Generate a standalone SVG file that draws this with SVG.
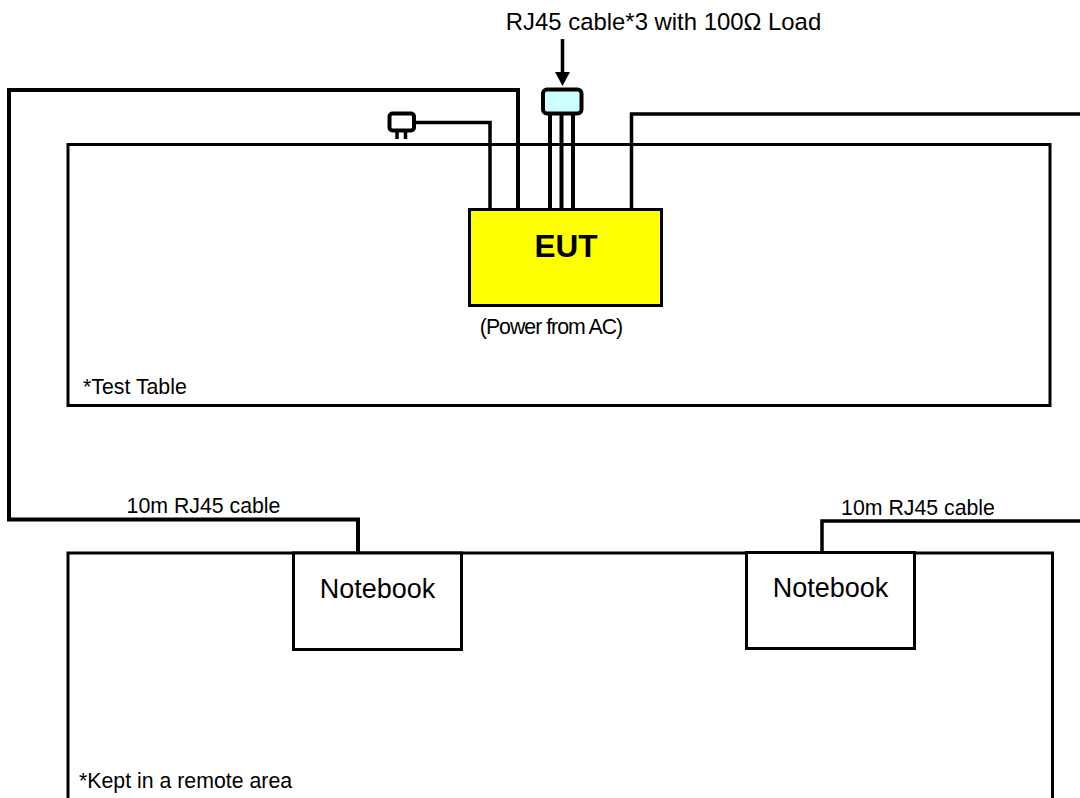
<svg xmlns="http://www.w3.org/2000/svg" width="1080" height="798" viewBox="0 0 1080 798">
<style>
text{font-family:"Liberation Sans",Arial,sans-serif;fill:#000}
.box{fill:#fff;stroke:#000;stroke-width:3}
.open{fill:none;stroke:#000;stroke-width:3.500;stroke-linejoin:miter}
.thick{fill:none;stroke:#000;stroke-width:4;stroke-linejoin:miter}
.thin{fill:none;stroke:#000;stroke-width:3.500;stroke-linejoin:miter}
.small{font-size:21.300px}
.mid{text-anchor:middle}
.nb{font-size:27px;text-anchor:middle}
</style>
<rect width="1080" height="798" fill="#fff"/>
<g id="test-table"><path class="box" d="M68 144.500H1050V405.500H68Z"/><text x="83" y="394" class="small">*Test Table</text></g>
<g id="remote-area"><path class="box" d="M68 798V553H1052.500V798"/><text x="79" y="788" class="small">*Kept in a remote area</text></g>
<g id="connectors">
<path class="open" d="M490 209V122.500H414"/>
<path class="thick" d="M518 209V90H9V519.500H358V553"/>
<path class="thick" d="M550 209V113M561.500 209V113M573 209V113"/>
<path class="thin" d="M631.500 209V114H1080"/>
<path class="thin" d="M822 553V521H1080"/>
<path d="M562.500 39V74" stroke="#000" stroke-width="3.500" fill="none"/>
<path d="M555 72H570L562.500 86Z" fill="#000"/>
</g>
<g id="eut"><rect x="469.500" y="209.500" width="192" height="96" fill="#ff0" stroke="#000" stroke-width="3"/><text x="566" y="257" font-size="31.500" font-weight="bold" text-anchor="middle">EUT</text><text x="551" y="334" class="small" letter-spacing="-1" text-anchor="middle">(Power from AC)</text></g>
<g id="plug"><rect x="389.500" y="113.500" width="24.500" height="17" rx="3" fill="#fff" stroke="#000" stroke-width="4"/><path d="M397 131V139M405.500 131V139" stroke="#000" stroke-width="3.500" fill="none"/></g>
<g id="rj45-load"><rect x="543" y="89.500" width="38.500" height="24" rx="4" fill="#cff" stroke="#000" stroke-width="4"/></g>
<g id="load-label"><text x="663.500" y="30" font-size="23.900" text-anchor="middle">RJ45 cable*3 with 100Ω Load</text></g>
<g id="notebook-left"><rect class="box" x="293.500" y="553" width="168" height="96.500"/><text x="377.500" y="598" class="nb">Notebook</text></g>
<g id="notebook-right"><rect class="box" x="746.500" y="552.500" width="168" height="96"/><text x="830.500" y="597" class="nb">Notebook</text></g>
<text x="203.500" y="513" class="small mid">10m RJ45 cable</text>
<text x="918" y="515" class="small mid">10m RJ45 cable</text>
</svg>
